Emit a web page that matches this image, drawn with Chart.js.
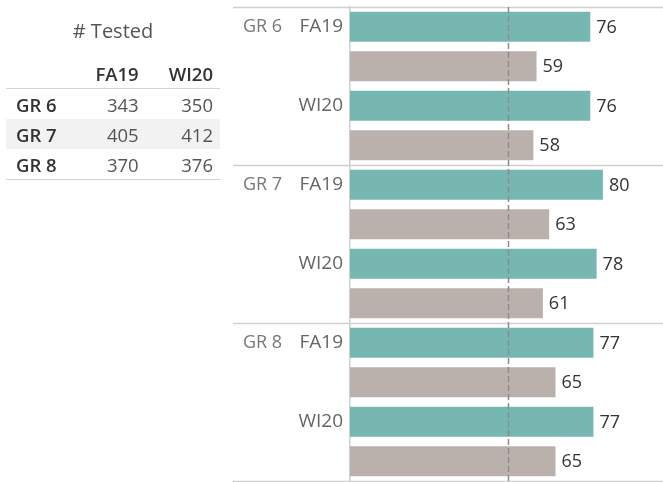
<!DOCTYPE html>
<html>
<head>
<meta charset="utf-8">
<script src="https://cdn.jsdelivr.net/npm/chart.js@4.4.1/dist/chart.umd.min.js"></script>
<style>
  html,body{margin:0;padding:0;background:#fff;}
  body{width:663px;height:482px;position:relative;overflow:hidden;font-family:"Open Sans",sans-serif;}
  #wrap{position:absolute;left:0;top:0;width:663px;height:482px;}
  #tbl{position:absolute;left:0;top:0;width:230px;height:200px;}
  .title{position:absolute;left:0;width:226px;top:17px;text-align:center;font-size:20px;color:#555;}
  table{position:absolute;left:6px;top:58px;border-collapse:collapse;width:214px;font-size:18.5px;}
  th{font-weight:600;color:#333;height:30px;text-align:right;padding:0;}
  td{height:30px;padding:0;text-align:right;color:#555;}
  td.g{text-align:left;padding-left:10px;font-weight:600;color:#333;}
  .c1{padding-right:12px;}
  .c2{padding-right:7px;}
  tbody tr:first-child td{border-top:1px solid #d4d4d4;}
  tbody tr:last-child td{border-bottom:1px solid #d4d4d4;}
  tr.alt td{background:#f2f2f2;}
</style>
</head>
<body>
<div id="wrap"><canvas id="c" width="663" height="482"></canvas></div>
<div id="tbl">
  <div class="title"># Tested</div>
  <table id="t"></table>
</div>
<script>
// ---- data ----
const grades = ["GR 6", "GR 7", "GR 8"];
const terms = ["FA19", "WI20"];
const testedFA19 = [343, 405, 370];
const testedWI20 = [350, 412, 376];
const tealValues  = [76, 76, 80, 78, 77, 77];   // per grade x term
const beigeValues = [59, 58, 63, 61, 65, 65];   // per grade x term
const refLine = 50;

// ---- table ----
(function(){
  const t = document.getElementById('t');
  let h = '<thead><tr><th style="width:70px"></th><th class="c1">' + terms[0] + '</th><th class="c2">' + terms[1] + '</th></tr></thead><tbody>';
  grades.forEach((g,i)=>{
    h += '<tr' + (i===1?' class="alt"':'') + '><td class="g">' + g + '</td><td class="c1">' + testedFA19[i] + '</td><td class="c2">' + testedWI20[i] + '</td></tr>';
  });
  h += '</tbody>';
  t.innerHTML = h;
})();

// ---- chart rows ----
const TEAL = '#76b7b2', BEIGE = '#bab0ac';
const rowLabels = [], rowValues = [], rowColors = [];
grades.forEach((g, gi) => {
  terms.forEach((tm, ti) => {
    const k = gi * terms.length + ti;
    rowLabels.push(tm); rowValues.push(tealValues[k]); rowColors.push(TEAL);
    rowLabels.push(''); rowValues.push(beigeValues[k]); rowColors.push(BEIGE);
  });
});
const rowsPerGroup = terms.length * 2;

const FONT = '"Open Sans", sans-serif';

const overlay = {
  id: 'overlay',
  beforeDatasetsDraw(chart) {
    const ctx = chart.ctx, y = chart.scales.y, a = chart.chartArea;
    const step = (y.getPixelForValue(1) - y.getPixelForValue(0));
    ctx.save();
    ctx.strokeStyle = '#d0d0d0';
    ctx.lineWidth = 1.5;
    for (let g = 0; g <= grades.length; g++) {
      const yy = Math.round(y.getPixelForValue(g * rowsPerGroup) - step / 2) + 0.5;
      ctx.beginPath(); ctx.moveTo(233, yy); ctx.lineTo(a.right, yy); ctx.stroke();
    }
    ctx.restore();
  },
  afterDatasetsDraw(chart) {
    const ctx = chart.ctx, y = chart.scales.y, x = chart.scales.x, a = chart.chartArea;
    ctx.save();
    const rx = Math.round(x.getPixelForValue(refLine)) + 0.5;
    ctx.strokeStyle = '#8c8c8c';
    ctx.lineWidth = 1.5;
    ctx.setLineDash([6, 3]);
    ctx.beginPath(); ctx.moveTo(rx, a.top); ctx.lineTo(rx, a.bottom); ctx.stroke();
    ctx.setLineDash([]);
    const meta = chart.getDatasetMeta(0);
    ctx.font = '18px ' + FONT;
    ctx.fillStyle = '#333';
    ctx.textBaseline = 'middle';
    ctx.textAlign = 'left';
    meta.data.forEach((bar, i) => {
      ctx.fillText(String(rowValues[i]), bar.x + 6, bar.y + 1);
    });
    ctx.fillStyle = '#777';
    grades.forEach((g, gi) => {
      ctx.fillText(g, 243, y.getPixelForValue(gi * rowsPerGroup));
    });
    ctx.restore();
  }
};

new Chart(document.getElementById('c'), {
  type: 'bar',
  data: {
    labels: rowLabels,
    datasets: [{
      data: rowValues,
      backgroundColor: rowColors,
      barPercentage: 0.76,
      categoryPercentage: 1.0,
      borderWidth: 0
    }]
  },
  options: {
    indexAxis: 'y',
    responsive: false,
    animation: false,
    devicePixelRatio: 1,
    layout: { padding: { top: 7, bottom: 1, left: 0, right: 0 } },
    plugins: { legend: { display: false }, tooltip: { enabled: false } },
    scales: {
      x: { min: 0, max: 99, display: false },
      y: {
        grid: { display: false, drawTicks: false },
        border: { display: true, color: '#d0d0d0', width: 1.5 },
        ticks: { color: '#666', font: { family: FONT, size: 19 }, padding: 7, autoSkip: false },
        afterFit(scale) { scale.width = 350; scale.paddingTop = 0; scale.paddingBottom = 0; }
      }
    }
  },
  plugins: [overlay]
});
</script>
</body>
</html>
